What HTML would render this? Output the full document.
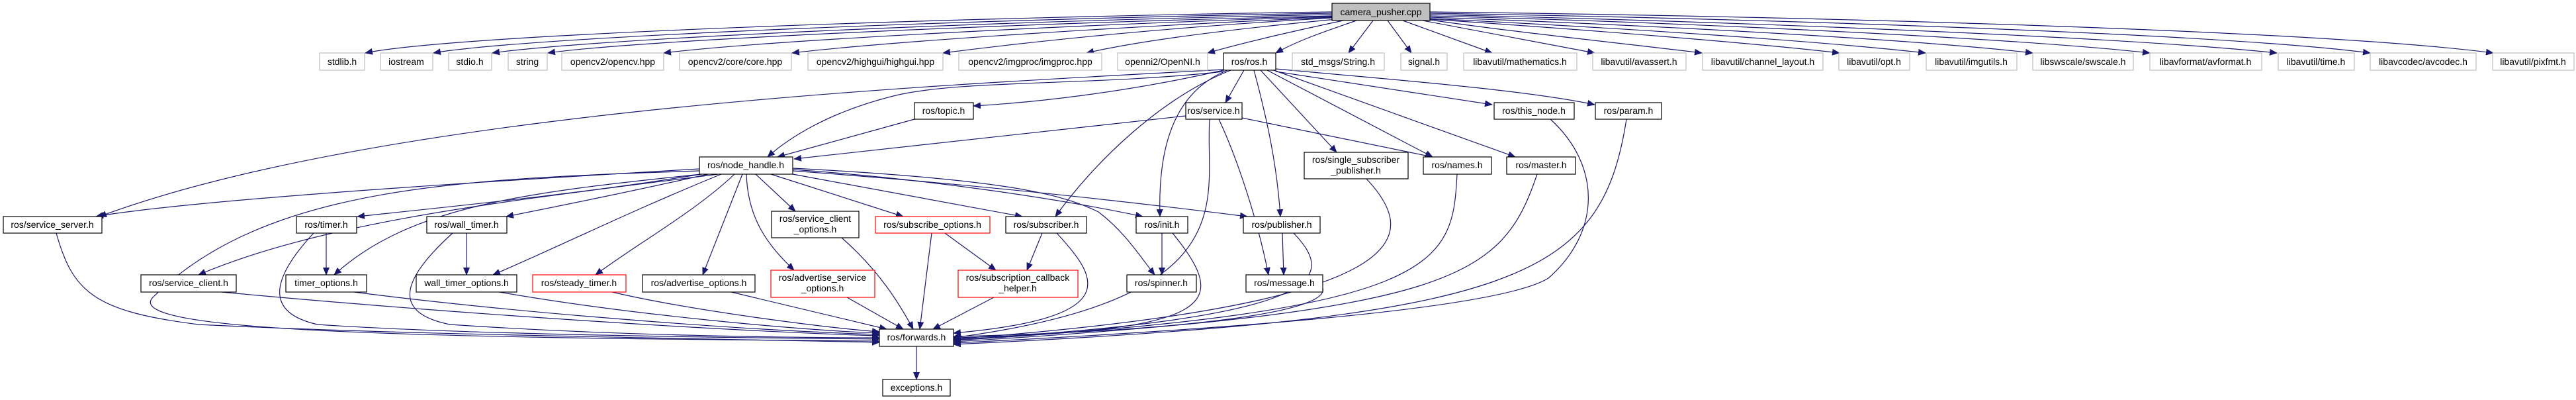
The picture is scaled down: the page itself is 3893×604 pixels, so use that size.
<!DOCTYPE html>
<html><head><meta charset="utf-8"><style>
html,body{margin:0;padding:0;background:#fff;}
svg{display:block;}
text{font-family:"Liberation Sans",sans-serif;font-size:14px;text-anchor:middle;fill:#000;}
.e{fill:none;stroke:#191970;stroke-width:1.2;marker-end:url(#a);}
.g{fill:#fff;stroke:#bfbfbf;stroke-width:1.2;}
.b{fill:#fff;stroke:#000;stroke-width:1.2;}
.r{fill:#fff;stroke:#ff0000;stroke-width:1.2;}
</style></head><body>
<svg width="3893" height="604" viewBox="0 0 3893 604" xmlns="http://www.w3.org/2000/svg">
<defs><marker id="a" markerUnits="userSpaceOnUse" markerWidth="12" markerHeight="10" refX="11" refY="5" orient="auto"><path d="M0,0 L12,5 L0,10 z" fill="#191970"/></marker></defs>
<g>
<path class="e" d="M2013,18 C1500,25 700,50 552,80"/>
<path class="e" d="M2013,20 C1500,28 800,55 655,80"/>
<path class="e" d="M2013,22 C1500,32 900,58 744,80"/>
<path class="e" d="M2013,24 C1500,36 950,62 828,80"/>
<path class="e" d="M2013,25 C1600,38 1150,62 1003,80"/>
<path class="e" d="M2013,26 C1700,40 1350,62 1197,80"/>
<path class="e" d="M2013,27 C1750,42 1550,64 1425,80"/>
<path class="e" d="M2020,29 C1850,45 1720,62 1642,80"/>
<path class="e" d="M2030,31 C1950,48 1880,64 1825,80"/>
<path class="e" d="M2050,31 C2000,48 1960,62 1928,80"/>
<path class="e" d="M2075,31 L2038,80"/>
<path class="e" d="M2097,31 L2133,80"/>
<path class="e" d="M2120,31 L2255,80"/>
<path class="e" d="M2150,31 L2410,80"/>
<path class="e" d="M2161,30 C2300,50 2450,65 2572,80"/>
<path class="e" d="M2161,29 C2400,45 2650,65 2780,80"/>
<path class="e" d="M2161,28 C2450,42 2750,62 2910,80"/>
<path class="e" d="M2161,26 C2500,38 2900,60 3072,80"/>
<path class="e" d="M2161,24 C2550,34 3050,58 3249,80"/>
<path class="e" d="M2161,22 C2600,32 3200,55 3441,80"/>
<path class="e" d="M2161,20 C2650,28 3350,50 3582,80"/>
<path class="e" d="M2161,18 C2700,24 3500,45 3768,80"/>
<path class="e" d="M1849,106 C1700,140 1560,155 1471,160"/>
<path class="e" d="M1849,108 C1650,130 1450,120 1350,145 C1250,170 1190,210 1160,237"/>
<path class="e" d="M1849,105 C1500,125 600,160 150,327"/>
<path class="e" d="M1880,106 L1852,155"/>
<path class="e" d="M1860,106 C1750,150 1650,250 1595,327"/>
<path class="e" d="M1855,106 C1770,140 1750,230 1753,327"/>
<path class="e" d="M1895,106 C1915,180 1930,250 1935,327"/>
<path class="e" d="M1905,106 L2020,230"/>
<path class="e" d="M1915,106 L2165,237"/>
<path class="e" d="M1925,106 L2290,237"/>
<path class="e" d="M1928,108 L2255,158"/>
<path class="e" d="M1928,104 C2100,120 2300,135 2410,158"/>
<path class="e" d="M1382,180 L1175,237"/>
<path class="e" d="M1792,175 L1200,240"/>
<path class="e" d="M1877,178 L2165,237"/>
<path class="e" d="M1842,180 C1870,240 1900,330 1917,415"/>
<path class="e" d="M1828,180 C1820,300 1890,450 1441,510"/>
<path class="e" d="M1057,255 C800,270 300,300 145,327"/>
<path class="e" d="M1057,258 C700,270 400,280 230,450 C190,500 600,510 1329,515"/>
<path class="e" d="M1085,263 C800,300 500,330 300,415"/>
<path class="e" d="M1065,262 C900,290 700,310 540,327"/>
<path class="e" d="M1060,263 C800,290 620,310 505,415"/>
<path class="e" d="M1070,263 C950,290 850,310 765,327"/>
<path class="e" d="M1090,263 C950,320 850,370 745,415"/>
<path class="e" d="M1110,263 C1050,320 960,370 900,415"/>
<path class="e" d="M1122,263 L1062,415"/>
<path class="e" d="M1142,263 L1202,319"/>
<path class="e" d="M1128,263 C1130,330 1160,370 1200,408"/>
<path class="e" d="M1165,263 L1365,327"/>
<path class="e" d="M1198,263 L1545,327"/>
<path class="e" d="M1198,256 C1400,270 1600,300 1727,327"/>
<path class="e" d="M1198,258 C1500,280 1750,310 1885,327"/>
<path class="e" d="M1198,254 C1500,270 1600,290 1660,320 C1700,350 1725,390 1745,415"/>
<path class="e" d="M85,352 C110,440 140,470 300,490 C600,505 1000,510 1329,517"/>
<path class="e" d="M493,352 L493,415"/>
<path class="e" d="M474,352 C420,410 390,470 480,490 C700,505 1100,510 1329,512"/>
<path class="e" d="M705,352 L705,415"/>
<path class="e" d="M684,352 C620,410 580,470 680,490 C900,505 1150,510 1329,510"/>
<path class="e" d="M1272,359 C1330,410 1360,460 1380,497"/>
<path class="e" d="M1408,352 L1390,497"/>
<path class="e" d="M1428,352 L1505,408"/>
<path class="e" d="M1575,352 L1552,408"/>
<path class="e" d="M1597,352 C1660,420 1700,480 1441,503"/>
<path class="e" d="M1756,352 L1756,415"/>
<path class="e" d="M1772,352 C1860,460 1840,500 1441,510"/>
<path class="e" d="M1938,352 L1940,415"/>
<path class="e" d="M1955,352 C2020,420 2010,480 1441,513"/>
<path class="e" d="M335,441 C700,475 1100,500 1329,507"/>
<path class="e" d="M535,441 C800,475 1150,500 1329,505"/>
<path class="e" d="M755,441 C950,475 1200,498 1329,503"/>
<path class="e" d="M925,441 C1050,470 1250,495 1329,501"/>
<path class="e" d="M1105,441 L1340,497"/>
<path class="e" d="M1280,449 L1365,497"/>
<path class="e" d="M1502,449 L1410,497"/>
<path class="e" d="M1999,435 C2010,470 1800,500 1441,508"/>
<path class="e" d="M2065,270 C2150,360 2140,460 1441,512"/>
<path class="e" d="M2202,263 C2195,400 2180,470 1441,514"/>
<path class="e" d="M2323,263 C2270,420 2200,470 1441,516"/>
<path class="e" d="M2343,180 C2420,250 2420,350 2340,420 C2260,470 1800,500 1441,518"/>
<path class="e" d="M2458,180 C2420,420 2300,480 1441,520"/>
<path class="e" d="M1385,523 L1385,573"/>
</g>
<rect x="2013" y="5" width="148" height="26" fill="#bfbfbf" stroke="#000" stroke-width="1.2"/><text x="2087" y="23">camera_pusher.cpp</text>
<g>
<rect class="g" x="483" y="80" width="68" height="26"/><text x="517" y="98">stdlib.h</text>
<rect class="g" x="575" y="80" width="79" height="26"/><text x="614" y="98">iostream</text>
<rect class="g" x="678" y="80" width="65" height="26"/><text x="710" y="98">stdio.h</text>
<rect class="g" x="768" y="80" width="59" height="26"/><text x="797" y="98">string</text>
<rect class="g" x="849" y="80" width="154" height="26"/><text x="926" y="98">opencv2/opencv.hpp</text>
<rect class="g" x="1027" y="80" width="169" height="26"/><text x="1111" y="98">opencv2/core/core.hpp</text>
<rect class="g" x="1221" y="80" width="204" height="26"/><text x="1323" y="98">opencv2/highgui/highgui.hpp</text>
<rect class="g" x="1449" y="80" width="216" height="26"/><text x="1557" y="98">opencv2/imgproc/imgproc.hpp</text>
<rect class="g" x="1689" y="80" width="136" height="26"/><text x="1757" y="98">openni2/OpenNI.h</text>
<rect class="b" x="1849" y="80" width="79" height="26"/><text x="1888" y="98">ros/ros.h</text>
<rect class="g" x="1953" y="80" width="139" height="26"/><text x="2022" y="98">std_msgs/String.h</text>
<rect class="g" x="2117" y="80" width="70" height="26"/><text x="2152" y="98">signal.h</text>
<rect class="g" x="2212" y="80" width="171" height="26"/><text x="2297" y="98">libavutil/mathematics.h</text>
<rect class="g" x="2407" y="80" width="141" height="26"/><text x="2477" y="98">libavutil/avassert.h</text>
<rect class="g" x="2573" y="80" width="182" height="26"/><text x="2664" y="98">libavutil/channel_layout.h</text>
<rect class="g" x="2779" y="80" width="107" height="26"/><text x="2832" y="98">libavutil/opt.h</text>
<rect class="g" x="2911" y="80" width="137" height="26"/><text x="2979" y="98">libavutil/imgutils.h</text>
<rect class="g" x="3072" y="80" width="152" height="26"/><text x="3148" y="98">libswscale/swscale.h</text>
<rect class="g" x="3249" y="80" width="169" height="26"/><text x="3333" y="98">libavformat/avformat.h</text>
<rect class="g" x="3443" y="80" width="115" height="26"/><text x="3500" y="98">libavutil/time.h</text>
<rect class="g" x="3582" y="80" width="160" height="26"/><text x="3662" y="98">libavcodec/avcodec.h</text>
<rect class="g" x="3767" y="80" width="123" height="26"/><text x="3828" y="98">libavutil/pixfmt.h</text>
<rect class="b" x="1382" y="155" width="89" height="25"/><text x="1426" y="172">ros/topic.h</text>
<rect class="b" x="1792" y="155" width="85" height="25"/><text x="1834" y="172">ros/service.h</text>
<rect class="b" x="2258" y="155" width="121" height="25"/><text x="2318" y="172">ros/this_node.h</text>
<rect class="b" x="2411" y="155" width="100" height="25"/><text x="2461" y="172">ros/param.h</text>
<rect class="b" x="1057" y="237" width="141" height="26"/><text x="1127" y="254">ros/node_handle.h</text>
<rect class="b" x="1971" y="230" width="157" height="40"/><text x="2049" y="246">ros/single_subscriber</text><text x="2049" y="262">_publisher.h</text>
<rect class="b" x="2151" y="237" width="103" height="26"/><text x="2202" y="254">ros/names.h</text>
<rect class="b" x="2277" y="237" width="104" height="26"/><text x="2329" y="254">ros/master.h</text>
<rect class="b" x="5" y="327" width="149" height="25"/><text x="79" y="344">ros/service_server.h</text>
<rect class="b" x="448" y="327" width="91" height="25"/><text x="493" y="344">ros/timer.h</text>
<rect class="b" x="645" y="327" width="121" height="25"/><text x="705" y="344">ros/wall_timer.h</text>
<rect class="b" x="1166" y="319" width="132" height="40"/><text x="1232" y="335">ros/service_client</text><text x="1232" y="351">_options.h</text>
<rect class="r" x="1323" y="327" width="173" height="25"/><text x="1409" y="344">ros/subscribe_options.h</text>
<rect class="b" x="1520" y="327" width="122" height="25"/><text x="1581" y="344">ros/subscriber.h</text>
<rect class="b" x="1717" y="327" width="78" height="25"/><text x="1756" y="344">ros/init.h</text>
<rect class="b" x="1879" y="327" width="116" height="25"/><text x="1937" y="344">ros/publisher.h</text>
<rect class="b" x="213" y="415" width="144" height="26"/><text x="285" y="432">ros/service_client.h</text>
<rect class="b" x="432" y="415" width="122" height="26"/><text x="493" y="432">timer_options.h</text>
<rect class="b" x="629" y="415" width="152" height="26"/><text x="705" y="432">wall_timer_options.h</text>
<rect class="r" x="805" y="415" width="141" height="26"/><text x="875" y="432">ros/steady_timer.h</text>
<rect class="b" x="971" y="415" width="170" height="26"/><text x="1056" y="432">ros/advertise_options.h</text>
<rect class="r" x="1165" y="408" width="157" height="41"/><text x="1243" y="424">ros/advertise_service</text><text x="1243" y="440">_options.h</text>
<rect class="r" x="1448" y="408" width="181" height="41"/><text x="1538" y="424">ros/subscription_callback</text><text x="1538" y="440">_helper.h</text>
<rect class="b" x="1703" y="415" width="105" height="26"/><text x="1755" y="432">ros/spinner.h</text>
<rect class="b" x="1883" y="415" width="116" height="26"/><text x="1941" y="432">ros/message.h</text>
<rect class="b" x="1329" y="497" width="112" height="26"/><text x="1385" y="514">ros/forwards.h</text>
<rect class="b" x="1334" y="573" width="102" height="25"/><text x="1385" y="590">exceptions.h</text>
</g>
</svg>
</body></html>
